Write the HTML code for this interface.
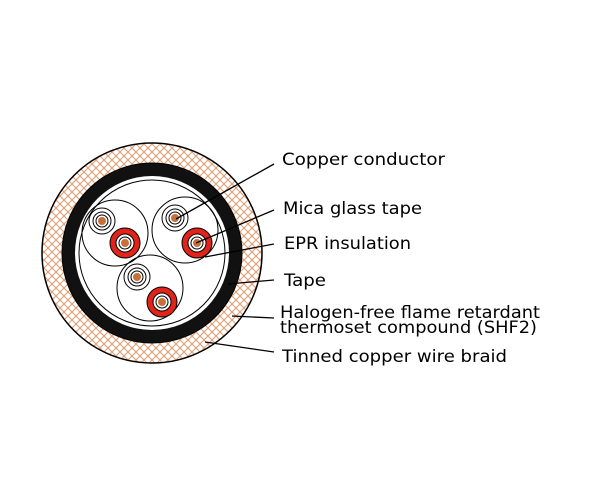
<!DOCTYPE html>
<html><head><meta charset="utf-8"><style>
html,body{margin:0;padding:0;background:#fff;}
svg{display:block}
text{font-family:"DejaVu Sans","Liberation Sans",sans-serif;font-size:17px;fill:#000}
</style></head><body>
<svg width="600" height="500" viewBox="0 0 600 500" xmlns="http://www.w3.org/2000/svg">
<defs>
<pattern id="br" width="8" height="8" patternUnits="userSpaceOnUse">
<rect width="8" height="8" fill="#fff"/>
<path d="M0 0L8 8M8 0L0 8" stroke="#e29a6e" stroke-width="1"/>
</pattern>
</defs>
<circle cx="152" cy="253" r="110" fill="url(#br)" stroke="#000" stroke-width="1.5"/>
<circle cx="152" cy="253" r="90" fill="#111" stroke="#000"/>
<circle cx="152" cy="253" r="77" fill="#fff"/>
<circle cx="152" cy="253" r="73" fill="none" stroke="#000" stroke-width="1"/>
<g fill="none" stroke="#000" stroke-width="1">
<circle cx="115" cy="233" r="33"/>
<circle cx="185" cy="230" r="33"/>
<circle cx="150" cy="288" r="33"/>
</g>
<g stroke="#000" stroke-width="1" fill="#fff">
<circle cx="102" cy="221" r="13"/><circle cx="102" cy="221" r="9"/><circle cx="102" cy="221" r="6"/>
<circle cx="175" cy="218" r="13"/><circle cx="175" cy="218" r="9"/><circle cx="175" cy="218" r="6"/>
<circle cx="137" cy="277" r="13"/><circle cx="137" cy="277" r="9"/><circle cx="137" cy="277" r="6"/>
</g>
<g fill="#c8703a">
<circle cx="102" cy="221" r="4"/><circle cx="175" cy="218" r="4"/><circle cx="137" cy="277" r="4"/>
</g>
<g stroke="#000" stroke-width="1">
<circle cx="125" cy="243" r="15" fill="#e2231a"/>
<circle cx="197" cy="243" r="15" fill="#e2231a"/>
<circle cx="162" cy="302" r="15" fill="#e2231a"/>
<circle cx="125" cy="243" r="9" fill="#fff"/><circle cx="125" cy="243" r="6" fill="#fff"/>
<circle cx="197" cy="243" r="9" fill="#fff"/><circle cx="197" cy="243" r="6" fill="#fff"/>
<circle cx="162" cy="302" r="9" fill="#fff"/><circle cx="162" cy="302" r="6" fill="#fff"/>
</g>
<g fill="#c8703a">
<circle cx="125" cy="243" r="4"/><circle cx="197" cy="243" r="4"/><circle cx="162" cy="302" r="4"/>
</g>
<g stroke="#000" stroke-width="1.3" fill="none">
<line x1="274" y1="164" x2="176" y2="219"/>
<line x1="274" y1="210" x2="196" y2="243"/>
<line x1="274" y1="244" x2="205" y2="257"/>
<line x1="274" y1="280" x2="228" y2="284"/>
<line x1="274" y1="318" x2="232" y2="316"/>
<line x1="274" y1="352" x2="205" y2="342"/>
</g>
<text x="282" y="165" textLength="163" lengthAdjust="spacingAndGlyphs">Copper conductor</text>
<text x="283" y="214" textLength="139" lengthAdjust="spacingAndGlyphs">Mica glass tape</text>
<text x="284" y="249" textLength="127" lengthAdjust="spacingAndGlyphs">EPR insulation</text>
<text x="284" y="286" textLength="42" lengthAdjust="spacingAndGlyphs">Tape</text>
<text x="280" y="318" textLength="260" lengthAdjust="spacingAndGlyphs">Halogen-free flame retardant</text>
<text x="280" y="333" textLength="257" lengthAdjust="spacingAndGlyphs">thermoset compound (SHF2)</text>
<text x="282" y="362" textLength="225" lengthAdjust="spacingAndGlyphs">Tinned copper wire braid</text>
</svg>
</body></html>
